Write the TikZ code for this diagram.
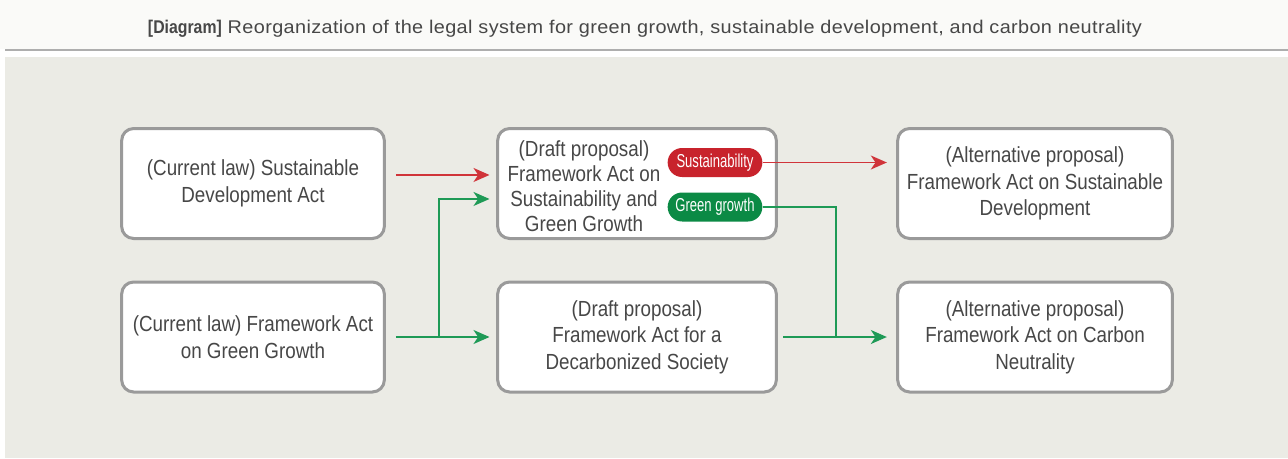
\documentclass[tikz,border=0pt]{standalone}
\usepackage{fontspec}
\setmainfont[FakeStretch=0.86]{Liberation Sans}
\newfontfamily\pillfont[FakeStretch=0.7]{Liberation Sans}
\newfontfamily\titlefont[FakeStretch=1.08,LetterSpace=2]{Liberation Sans}
\usetikzlibrary{positioning,arrows.meta,calc}

\definecolor{titlebg}{HTML}{FAFAF8}
\definecolor{panelbg}{HTML}{EBEBE5}
\definecolor{rulegray}{HTML}{AEAEAE}
\definecolor{boxgray}{HTML}{9A9A9A}
\definecolor{textgray}{HTML}{474747}
\definecolor{linered}{HTML}{D0343A}
\definecolor{pillred}{HTML}{C8232C}
\definecolor{linegreen}{HTML}{1E9A56}
\definecolor{pillgreen}{HTML}{0B8A45}

\begin{document}
\begin{tikzpicture}[
    x=0.75pt, y=-0.75pt,
    >={Stealth[length=12pt,width=10.5pt,inset=3.5pt]},
    lawbox/.style={
        draw=boxgray,
        line width=2.25pt,
        rounded corners=9pt,
        fill=white,
        minimum width=197pt,
        minimum height=82.5pt,
        align=center,
        text=textgray,
        font=\fontsize{16.4pt}{19.8pt}\selectfont
    },
    widebox/.style={
        lawbox,
        minimum width=209pt
    },
    altbox/.style={
        lawbox,
        minimum width=206pt
    },
    pill/.style={
        rounded corners=10.8pt,
        minimum width=71pt,
        minimum height=21.75pt,
        inner sep=0pt,
        text=white,
        font=\pillfont\fontsize{14pt}{16pt}\selectfont
    },
    redarrow/.style={
        ->,
        line width=1.1pt,
        draw=linered
    },
    greenarrow/.style={
        ->,
        line width=1.1pt,
        draw=linegreen
    },
    greenline/.style={
        line width=1.1pt,
        draw=linegreen
    }
]

% Canvas
\useasboundingbox (0,0) rectangle (1288,458);
\fill[titlebg] (0,0) rectangle (1288,49);
\draw[rulegray, line width=1.5pt] (5,50) -- (1288,50);
\fill[panelbg] (5,57) rectangle (1288,458);

% Title
\node[text=textgray, font=\titlefont\fontsize{13.8pt}{16pt}\selectfont] (title) at (645,29)
    {{\rmfamily\bfseries [Diagram]} Reorganization of the legal system for green growth, sustainable development, and carbon neutrality};

% Current laws
\node[lawbox] (sda) at (253,183.5) {(Current law) Sustainable\\Development Act};
\node[lawbox] (fagg) at (253,337) {(Current law) Framework Act\\on Green Growth};

% Draft proposals
\node[widebox] (fasg) at (637,183.5) {};
\node[text=textgray, align=center, font=\fontsize{16.4pt}{18.8pt}\selectfont] (fasgtext) at (584,186)
    {(Draft proposal)\\Framework Act on\\Sustainability and\\Green Growth};
\node[pill, fill=pillred] (sus) at (715,162.5) {Sustainability};
\node[pill, fill=pillgreen] (green) at (715,207) {Green growth};
\node[widebox] (fads) at (637,337) {(Draft proposal)\\Framework Act for a\\Decarbonized Society};

% Alternative proposals
\node[altbox] (fasd) at (1035,183.5) {(Alternative proposal)\\Framework Act on Sustainable\\Development};
\node[altbox] (facn) at (1035,337) {(Alternative proposal)\\Framework Act on Carbon\\Neutrality};

% Junctions
\coordinate (split) at (439,337);
\coordinate (merge) at (836,337);

% Arrows
\draw[redarrow, shorten <=7.5pt, shorten >=5pt]
    ([yshift=6.4pt]sda.east) -- ([yshift=6.4pt]sda.east -| fasg.west);
\draw[redarrow, shorten >=7pt] (sus.east) -- (sus.east -| fasd.west);
\draw[greenarrow, shorten <=7.5pt, shorten >=5pt] (fagg.east) -- (fads.west);
\draw[greenarrow, shorten >=5pt] (split) |- ([yshift=-11.6pt]fasg.west);
\draw[greenarrow, shorten <=4pt, shorten >=7pt] (fads.east) -- (facn.west);
\draw[greenline] (green.east) -| (merge);

\end{tikzpicture}
\end{document}
